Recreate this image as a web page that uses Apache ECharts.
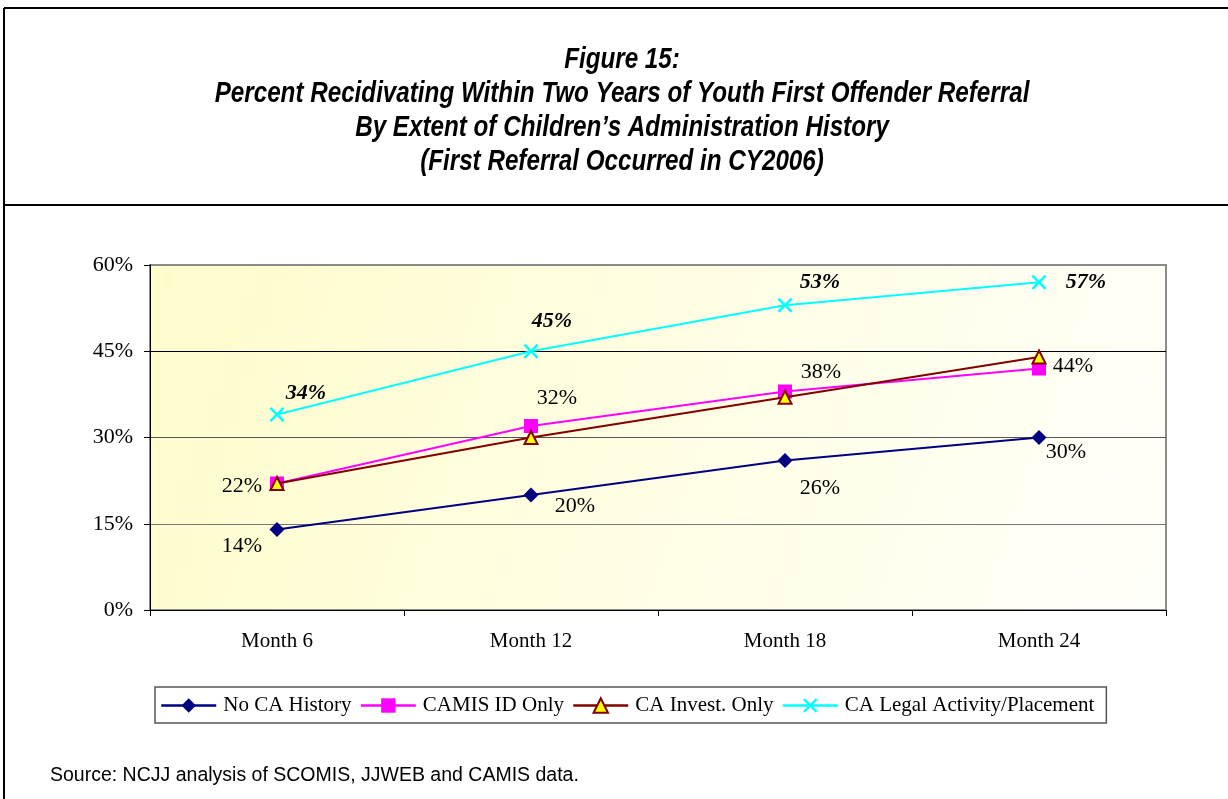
<!DOCTYPE html>
<html>
<head>
<meta charset="utf-8">
<script src="https://cdn.jsdelivr.net/npm/echarts@6/dist/echarts.min.js"></script>
<style>
  html, body { margin: 0; padding: 0; background: #fff; }
  #chart { width: 1228px; height: 799px; }
</style>
</head>
<body>
<div id="chart"></div>
<script>
// data
const months = ["Month 6", "Month 12", "Month 18", "Month 24"];
const noCaHistory = [14, 20, 26, 30];
const camisIdOnly = [22, 32, 38, 42];
const caInvestOnly = [22, 30, 37, 44];
const caLegal = [34, 45, 53, 57];
const yTicks = [0, 15, 30, 45, 60];

// which points carry a value label and where it sits (offset from point centre)
const labelSpots = {
  noCa: [[-35, 17], [44, 11], [35, 28], [27, 15]],
  camis: [[-35, 3], [26, -28], [36, -19], null],
  invest: [null, null, null, [34, 9]],
  legal: [[29, -21], [21, -30], [35, -23], [47, 0]]
};

const serif = "Liberation Serif";
const titleText = "Figure 15:\nPercent Recidivating Within Two Years of Youth First Offender Referral\nBy Extent of Children\u2019s Administration History\n(First Referral Occurred in CY2006)";

function withLabels(values, spots, extra) {
  return values.map(function (v, i) {
    const s = spots[i];
    if (!s) return { value: v, label: { show: false } };
    return {
      value: v,
      label: Object.assign({ show: true, position: "inside", offset: s }, extra || {})
    };
  });
}

const xMark = "path://M0,1.2L1.2,0L5,3.8L8.8,0L10,1.2L6.2,5L10,8.8L8.8,10L5,6.2L1.2,10L0,8.8L3.8,5Z";

const chart = echarts.init(document.getElementById("chart"));

const baseLabel = {
  fontFamily: serif,
  fontSize: 22,
  color: "#000",
  formatter: "{c}%"
};

chart.setOption({
  animation: false,
  backgroundColor: "#fff",
  graphic: [
    { type: "line", shape: { x1: 4, y1: 8, x2: 1228, y2: 8 }, style: { stroke: "#000", lineWidth: 2 } },
    { type: "line", shape: { x1: 4, y1: 8, x2: 4, y2: 799 }, style: { stroke: "#000", lineWidth: 2 } },
    { type: "line", shape: { x1: 4, y1: 205, x2: 1228, y2: 205 }, style: { stroke: "#000", lineWidth: 2 } },
    {
      // condensed arial-ish title: squeeze Liberation Sans horizontally
      type: "text", x: 622, y: 43, scaleX: 0.835,
      style: {
        text: titleText,
        font: "italic bold 29px 'Liberation Sans'",
        lineHeight: 34,
        textAlign: "center",
        fill: "#000"
      }
    },
    {
      type: "text", left: 50, top: 766,
      style: { text: "Source: NCJJ analysis of SCOMIS, JJWEB and CAMIS data.", font: "19.5px 'Liberation Sans'", fill: "#000" }
    }
  ],
  legend: {
    left: 155,
    top: 687,
    padding: [8, 12, 7, 5],
    borderColor: "#555",
    borderWidth: 1.5,
    itemGap: 8,
    itemWidth: 55,
    itemHeight: 18,
    lineStyle: { width: 2.5 },
    textStyle: { fontFamily: serif, fontSize: 21, color: "#000", padding: [0, 0, 0, 2] },
    data: ["No CA History", "CAMIS ID Only", "CA Invest. Only", "CA Legal Activity/Placement"]
  },
  grid: {
    left: 150,
    right: 62,
    top: 265,
    bottom: 189,
    show: true,
    borderColor: "#8c8c8c",
    borderWidth: 2,
    backgroundColor: new echarts.graphic.LinearGradient(0, 0, 1, 1, [
      { offset: 0, color: "#fffccc" },
      { offset: 1, color: "#fffffa" }
    ])
  },
  xAxis: {
    type: "category",
    data: months,
    boundaryGap: true,
    axisLine: { lineStyle: { color: "#000", width: 1 } },
    axisTick: { show: true, length: 6, lineStyle: { color: "#000" } },
    axisLabel: { fontFamily: serif, fontSize: 21, color: "#000", margin: 21 },
    splitLine: { show: false }
  },
  yAxis: {
    type: "value",
    min: yTicks[0],
    max: yTicks[yTicks.length - 1],
    interval: yTicks[1] - yTicks[0],
    axisLine: { show: true, lineStyle: { color: "#000", width: 1 } },
    axisTick: { show: true, length: 6, lineStyle: { color: "#000" } },
    axisLabel: { fontFamily: serif, fontSize: 22, color: "#000", margin: 17, formatter: "{value}%" },
    splitLine: {
      show: true,
      lineStyle: { color: ["#888", "#777", "#555", "#000", "#888"], width: 1 }
    }
  },
  series: [
    {
      name: "No CA History",
      type: "line",
      data: withLabels(noCaHistory, labelSpots.noCa),
      symbol: "diamond",
      symbolSize: 15,
      itemStyle: { color: "#000080" },
      lineStyle: { color: "#000080", width: 2 },
      label: baseLabel,
      z: 3
    },
    {
      name: "CAMIS ID Only",
      type: "line",
      data: withLabels(camisIdOnly, labelSpots.camis),
      symbol: "rect",
      symbolSize: 14,
      itemStyle: { color: "#ff00ff" },
      lineStyle: { color: "#ff00ff", width: 2 },
      label: baseLabel,
      z: 3
    },
    {
      name: "CA Invest. Only",
      type: "line",
      data: withLabels(caInvestOnly, labelSpots.invest),
      symbol: "triangle",
      symbolSize: 13,
      itemStyle: { color: "#ffff00", borderColor: "#800000", borderWidth: 2 },
      lineStyle: { color: "#800000", width: 2 },
      label: baseLabel,
      z: 4
    },
    {
      name: "CA Legal Activity/Placement",
      type: "line",
      data: withLabels(caLegal, labelSpots.legal, { fontWeight: "bold", fontStyle: "italic" }),
      symbol: xMark,
      symbolSize: 15,
      itemStyle: { color: "#00ffff" },
      lineStyle: { color: "#00ffff", width: 2 },
      label: baseLabel,
      z: 3
    }
  ]
});
</script>
</body>
</html>
